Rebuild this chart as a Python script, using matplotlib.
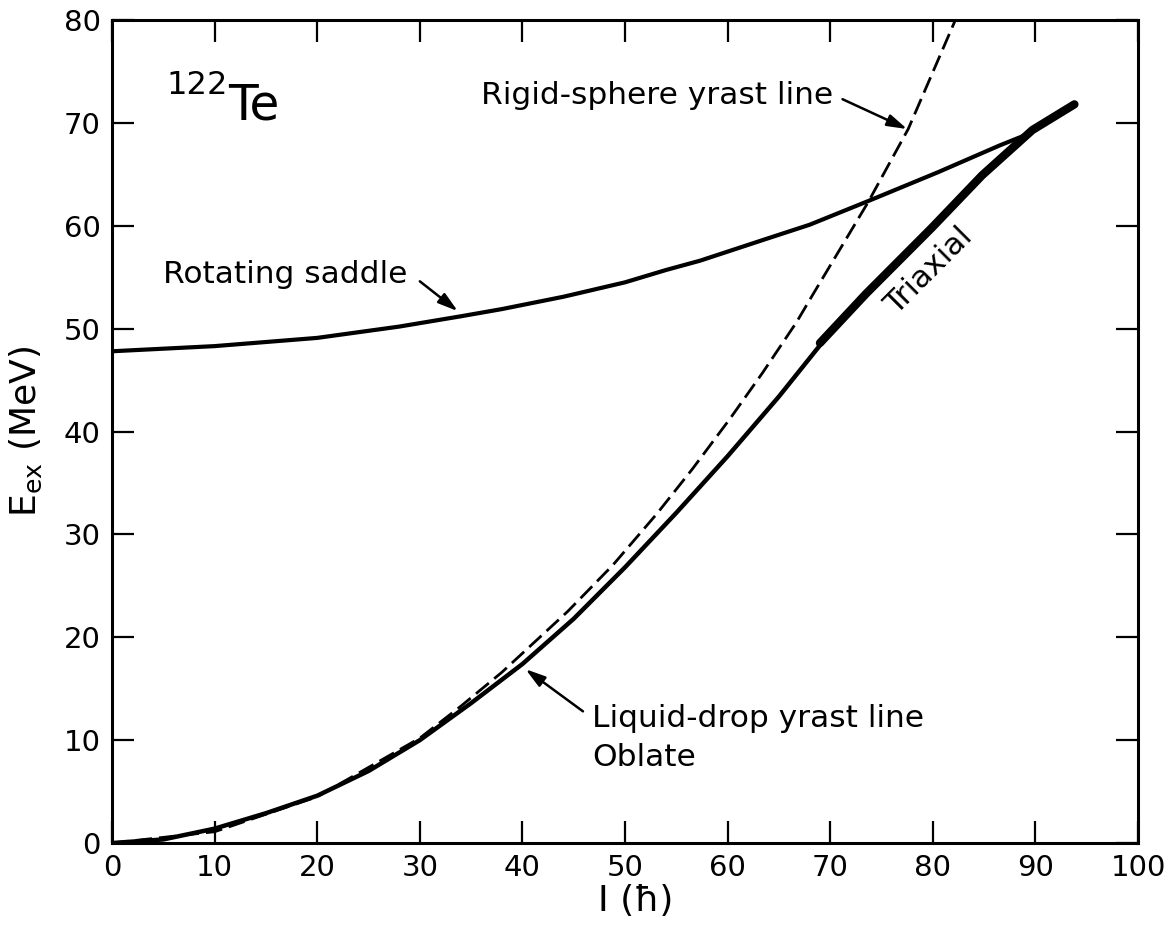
import matplotlib
matplotlib.use("Agg")
import matplotlib.pyplot as plt

# yrast curves for 122Te
liq_I = [0, 5, 10, 15, 20, 25, 30, 35, 40, 45, 50, 55, 60, 65, 69.5]
liq_E = [0, 0.35, 1.4, 2.9, 4.6, 7.0, 10.0, 13.6, 17.4, 21.8, 26.8, 32.1, 37.6, 43.4, 49.0]

rig_I = [0, 10, 20, 30, 34, 38, 44.4, 48.8, 53.1, 56.6, 60.2, 63.4, 66.7, 68.3, 73.7, 77.6, 82.2]
rig_E = [0, 1.1, 4.5, 10.2, 13.3, 16.6, 22.5, 27.0, 32.0, 36.4, 41.2, 45.7, 50.6, 53.3, 62.3, 69.4, 80.0]

sad_I = [0, 10, 20, 28, 34, 38, 44, 50, 54, 57.3, 63.7, 68, 73.7, 80.5, 86.5, 89.5]
sad_E = [47.8, 48.3, 49.1, 50.2, 51.2, 51.9, 53.1, 54.5, 55.7, 56.6, 58.7, 60.1, 62.4, 65.2, 67.8, 69.0]

tri_I = [69, 73.5, 79.9, 84.8, 89.7, 93.8]
tri_E = [48.6, 53.4, 59.8, 64.9, 69.3, 71.8]

x_ticks = list(range(0, 101, 10))
y_ticks = list(range(0, 81, 10))

fig = plt.figure(figsize=(11.72, 9.34), dpi=100)
ax = fig.add_axes([0.0956, 0.0974, 0.8754, 0.8812])

ax.plot(rig_I, rig_E, color="k", lw=2.0, ls=(0, (6, 2.5)))
ax.plot(liq_I, liq_E, color="k", lw=3.2, solid_capstyle="round")
ax.plot(sad_I, sad_E, color="k", lw=3.0, solid_capstyle="round")
ax.plot(tri_I, tri_E, color="k", lw=6.0, solid_capstyle="round")

ax.set_xlim(0, 100)
ax.set_ylim(0, 80)
ax.set_xticks(x_ticks)
ax.set_yticks(y_ticks)
ax.tick_params(direction="in", length=16, width=1.6, labelsize=21,
               top=True, right=True, pad=8)
for s in ax.spines.values():
    s.set_linewidth(2.2)

ax.set_xlabel("I (ħ)", fontsize=26)
ax.xaxis.set_label_coords(0.51, -0.05)
ax.set_ylabel(r"E$_{\rm ex}$ (MeV)", fontsize=26)
ax.yaxis.set_label_coords(-0.066, 0.5)

fs = 22.5
arrow = dict(arrowstyle="-|>,head_length=1.0,head_width=0.3", color="k",
             lw=1.8, mutation_scale=12, shrinkA=0, shrinkB=0)

ax.text(5.35, 72.8, "122", fontsize=23, ha="left", va="baseline")
ax.text(11.3, 70.3, "Te", fontsize=35, ha="left", va="baseline")

ax.text(4.97, 54.4, "Rotating saddle", fontsize=fs, ha="left", va="baseline")
ax.annotate("", xy=(33.7, 51.7), xytext=(30.0, 54.6), arrowprops=arrow)

ax.text(36.0, 71.8, "Rigid-sphere yrast line", fontsize=fs, ha="left", va="baseline")
ax.annotate("", xy=(77.5, 69.4), xytext=(71.2, 72.3), arrowprops=arrow)

ax.text(46.8, 11.3, "Liquid-drop yrast line", fontsize=fs, ha="left", va="baseline")
ax.text(46.8, 7.5, "Oblate", fontsize=fs, ha="left", va="baseline")
ax.annotate("", xy=(40.3, 16.9), xytext=(45.9, 12.8), arrowprops=arrow)

ax.text(79.6, 55.6, "Triaxial", fontsize=fs, rotation=45,
        ha="center", va="center", rotation_mode="anchor")

fig.savefig("out.png", dpi=100, facecolor="white")
